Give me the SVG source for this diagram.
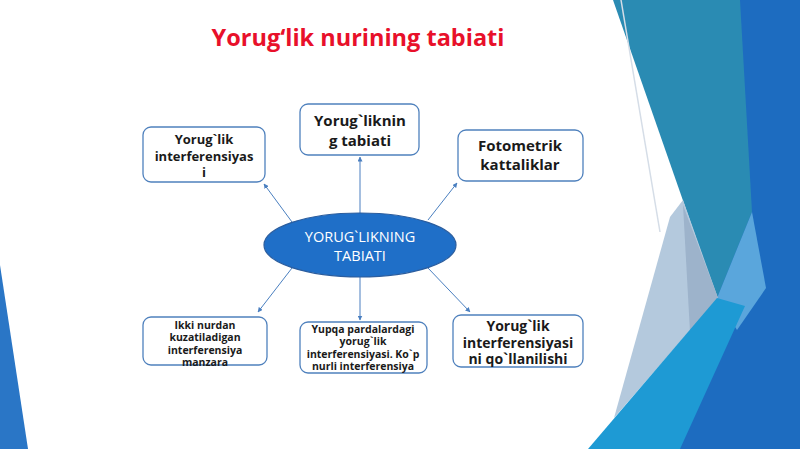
<svg xmlns="http://www.w3.org/2000/svg" width="800" height="449" viewBox="0 0 800 449">
<defs>
<marker id="ah" viewBox="0 0 10 10" refX="9" refY="5" markerWidth="5" markerHeight="5" orient="auto-start-reverse">
<path d="M0,0 L10,5 L0,10 z" fill="#4a7fc0"/>
</marker>
<style>
.box{fill:#ffffff;stroke:#4f81bd;stroke-width:1.3}
.t{font-family:"Open Sans","Noto Sans",sans-serif;font-weight:bold;fill:#1a1a1a;text-anchor:middle}
.c{stroke:#4a7fc0;stroke-width:1;fill:none;marker-end:url(#ah)}
</style>
</defs>
<rect width="800" height="449" fill="#ffffff"/>
<g id="background">
<polygon points="738,0 800,0 800,449 678,449" fill="#1d6cc0"/>
<polygon points="613,0 740,0 752,212 717,298" fill="#2a8bb3"/>
<polygon points="752,212 766,288 737,330 717,298" fill="#5aa6dc"/>
<polygon points="683,200 718,298 614,418 670,217" fill="#b4c9dd"/>
<polygon points="683,205 718,298 690,332" fill="#9db3cb"/>
<line x1="621" y1="0" x2="660" y2="232" stroke="#d5dde7" stroke-width="1.5"/>
<polygon points="588,449 717,298 745,306 680,449" fill="#1e9ad4"/>
<polygon points="0,265 28,449 0,449" fill="#2a76c6"/>
</g>
<text x="358" y="46" font-family="'Open Sans','Noto Sans',sans-serif" font-weight="bold" font-size="23.5" fill="#e8102a" text-anchor="middle">Yorug‘lik nurining tabiati</text>
<g id="connectors">
<line class="c" x1="292" y1="222" x2="264" y2="184"/>
<line class="c" x1="360" y1="213" x2="360" y2="157"/>
<line class="c" x1="428" y1="220" x2="457" y2="183"/>
<line class="c" x1="292" y1="268" x2="258" y2="312"/>
<line class="c" x1="360" y1="277" x2="360" y2="320"/>
<line class="c" x1="428" y1="268" x2="470" y2="312"/>
</g>
<g id="center">
<ellipse cx="360" cy="245" rx="96" ry="32" fill="#1f6fc8" stroke="#2b5d9e" stroke-width="1.2"/>
<text x="360" y="242" font-family="'Open Sans','Noto Sans',sans-serif" font-size="14.5" fill="#ffffff" text-anchor="middle">YORUG`LIKNING</text>
<text x="360" y="261" font-family="'Open Sans','Noto Sans',sans-serif" font-size="14.5" fill="#ffffff" text-anchor="middle">TABIATI</text>
</g>
<g id="n1">
<rect class="box" x="143" y="127" width="122" height="55" rx="8"/>
<text class="t" font-size="13" x="204" y="144">Yorug`lik</text>
<text class="t" font-size="13" x="204" y="161">interferensiyas</text>
<text class="t" font-size="13" x="204" y="177">i</text>
</g>
<g id="n2">
<rect class="box" x="300" y="104" width="119" height="51" rx="8"/>
<text class="t" font-size="15" x="360" y="126">Yorug`liknin</text>
<text class="t" font-size="15" x="360" y="146">g tabiati</text>
</g>
<g id="n3">
<rect class="box" x="458" y="130" width="125" height="51" rx="8"/>
<text class="t" font-size="15" x="520" y="151">Fotometrik</text>
<text class="t" font-size="15" x="520" y="170">kattaliklar</text>
</g>
<g id="n4">
<rect class="box" x="143" y="317" width="124" height="48" rx="8"/>
<text class="t" font-size="10.5" x="205" y="329">Ikki nurdan</text>
<text class="t" font-size="10.5" x="205" y="341">kuzatiladigan</text>
<text class="t" font-size="10.5" x="205" y="354">interferensiya</text>
<text class="t" font-size="10.5" x="205" y="366">manzara</text>
</g>
<g id="n5">
<rect class="box" x="300" y="322" width="127" height="51" rx="8"/>
<text class="t" font-size="10.5" x="363" y="333">Yupqa pardalardagi</text>
<text class="t" font-size="10.5" x="363" y="345">yorug`lik</text>
<text class="t" font-size="10.5" x="363" y="358">interferensiyasi. Ko`p</text>
<text class="t" font-size="10.5" x="363" y="370">nurli interferensiya</text>
</g>
<g id="n6">
<rect class="box" x="453" y="315" width="130" height="52" rx="8"/>
<text class="t" font-size="14" x="518" y="331">Yorug`lik</text>
<text class="t" font-size="14" x="518" y="348">interferensiyasi</text>
<text class="t" font-size="14" x="518" y="364">ni qo`llanilishi</text>
</g>
</svg>
